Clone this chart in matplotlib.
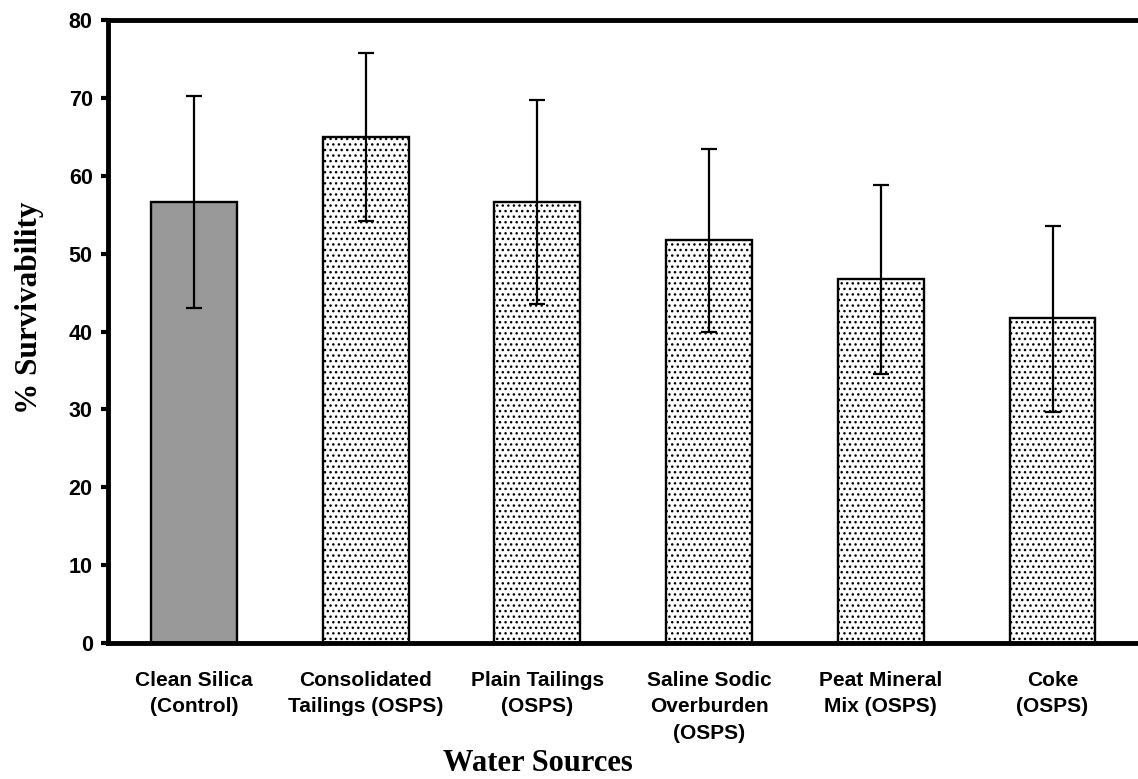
import matplotlib
matplotlib.use('Agg')
import matplotlib.pyplot as plt
import numpy as np

categories = ['Clean Silica\n(Control)', 'Consolidated\nTailings (OSPS)', 'Plain Tailings\n(OSPS)',
              'Saline Sodic\nOverburden\n(OSPS)', 'Peat Mineral\nMix (OSPS)', 'Coke\n(OSPS)']
survival = [56.7, 65.0, 56.7, 51.7, 46.7, 41.7]
err_up = [13.6, 10.8, 13.1, 11.7, 12.1, 11.9]
err_low = [13.7, 10.8, 13.2, 11.8, 12.1, 12.0]

plt.rcParams['hatch.linewidth'] = 1.0
plt.rcParams['hatch.color'] = '#555555'

fig = plt.figure(figsize=(11.38, 7.79), dpi=100)
ax = fig.add_axes([0.0949, 0.1746, 0.91, 0.7995])

x = np.arange(len(categories))
for i in range(len(categories)):
    if i == 0:
        ax.bar(x[i], survival[i], width=0.5, color='#999999', edgecolor='black', linewidth=1.7, zorder=2)
    else:
        ax.bar(x[i], survival[i], width=0.5, color='white', edgecolor='black', linewidth=1.7,
               hatch='...', zorder=2)

ax.errorbar(x, survival, yerr=[err_low, err_up], fmt='none', ecolor='black', elinewidth=1.6,
            capsize=5.5, capthick=1.6, zorder=3)

ax.set_xlim(-0.5, 5.53)
ax.set_ylim(0, 80)
ax.set_yticks(np.arange(0, 81, 10))
ax.set_xticks(x)
ax.set_xticklabels(categories, fontfamily='Liberation Sans', fontweight='bold', fontsize=15,
                   linespacing=1.5)
ax.tick_params(axis='x', length=0, pad=20)
ax.tick_params(axis='y', direction='out', length=5, width=3, pad=6)
for lab in ax.get_yticklabels():
    lab.set_fontfamily('Liberation Sans')
    lab.set_fontweight('bold')
    lab.set_fontsize(15.5)

ax.spines['right'].set_visible(False)
for s in ['left', 'top', 'bottom']:
    ax.spines[s].set_linewidth(3.5)

ax.set_ylabel('% Survivability', fontfamily='Liberation Serif', fontweight='bold', fontsize=22.5)
ax.yaxis.set_label_coords(-0.062, 0.538)
ax.set_xlabel('Water Sources', fontfamily='Liberation Serif', fontweight='bold', fontsize=22)
ax.xaxis.set_label_coords(0.415, -0.17)

fig.savefig('out.png', dpi=100)
